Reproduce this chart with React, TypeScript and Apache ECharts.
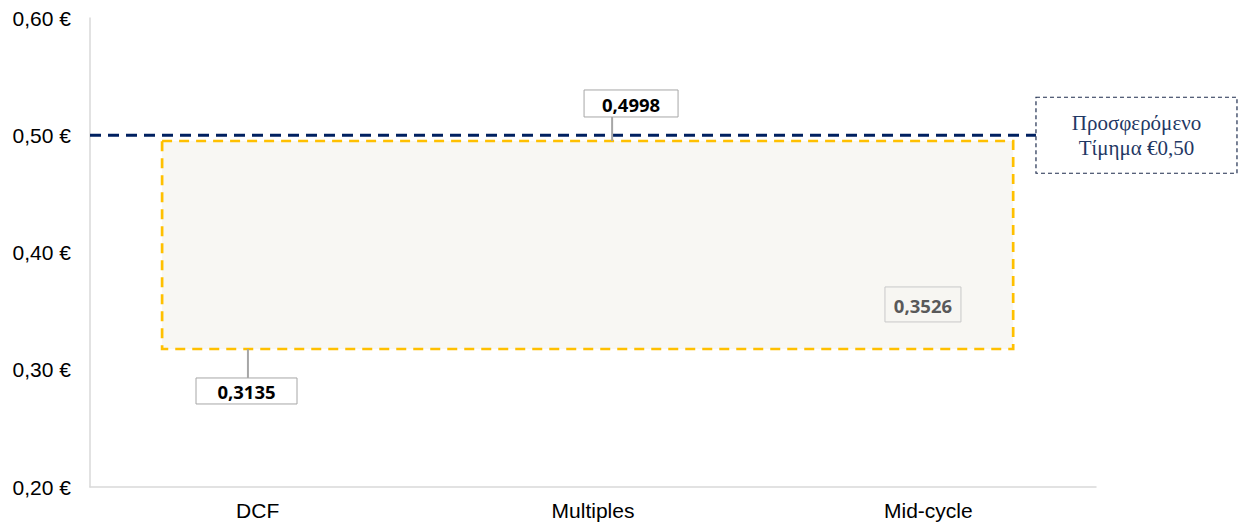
import React, { useEffect, useRef } from "react";
import * as echarts from "echarts";

// ---- data ----
const categories = ["DCF", "Multiples", "Mid-cycle"];
const yMin = 0.2;
const yMax = 0.6;
const yInterval = 0.1;

// valuation range box
const rangeLow = 0.3177;
const rangeHigh = 0.4951;
const rangeXStart = -0.285; // in category units on hidden value axis
const rangeXEnd = 2.253;

// offer price line
const offerPrice = 0.5;
const offerLineEnd = 2.321;
const offerLabelLines = ["Προσφερόμενο", "Τίμημα €0,50"];

// value callouts
const calloutTexts = ["0,4998", "0,3135", "0,3526"];
const calloutX = [1.1135, -0.0333, 1.984];
const calloutY = [0.5271, 0.2819, 0.3557];
const leaderX = [1.057, -0.029, null];
const leaderFrom = [rangeHigh, rangeLow, null];
const leaderTo = [0.5156, 0.293, null];

const fmt = (v: number) => v.toFixed(2).replace(".", ",") + " €";

export default function App() {
  const ref = useRef<HTMLDivElement>(null);
  useEffect(() => {
    if (!ref.current) return;
    const chart = echarts.init(ref.current, undefined, { renderer: "svg" });
    chart.setOption({
      animation: false,
      grid: { left: 90, right: 147, top: 18, bottom: 37, containLabel: false },
      xAxis: [
        {
          type: "category",
          data: categories,
          boundaryGap: true,
          axisLine: { show: true, onZero: false, lineStyle: { color: "#D9D9D9", width: 1.5 } },
          axisTick: { show: false },
          axisLabel: {
            fontSize: 21,
            color: "#000",
            fontFamily: "Liberation Sans, Arial, sans-serif",
            margin: 13,
          },
          splitLine: { show: false },
        },
        { type: "value", min: -0.5, max: 2.5, show: false },
      ],
      yAxis: {
        type: "value",
        min: yMin,
        max: yMax,
        interval: yInterval,
        axisLine: { show: true, onZero: false, lineStyle: { color: "#D9D9D9", width: 1.5 } },
        axisTick: { show: false },
        splitLine: { show: false },
        axisLabel: {
          fontSize: 21,
          color: "#000",
          fontFamily: "Liberation Sans, Arial, sans-serif",
          margin: 19,
          formatter: (v: number) => fmt(v),
        },
      },
      series: [
        {
          type: "line",
          xAxisIndex: 1,
          yAxisIndex: 0,
          symbol: "none",
          data: [
            [-0.5, offerPrice],
            [offerLineEnd, offerPrice],
          ],
          lineStyle: { color: "#002060", width: 2.8, type: [11, 7] },
          z: 5,
          markArea: {
            silent: true,
            itemStyle: {
              color: "#F8F7F3",
              borderColor: "#FFC000",
              borderWidth: 2.7,
              borderType: [10, 7],
            },
            data: [
              [
                { coord: [rangeXStart, rangeHigh] },
                { coord: [rangeXEnd, rangeLow] },
              ],
            ],
          },
        },
      ],
    });

    const px = (x: number, y: number) =>
      chart.convertToPixel({ xAxisIndex: 1, yAxisIndex: 0 }, [x, y]) as number[];

    const graphics: any[] = [];
    const boxSizes = [
      [94, 27],
      [101, 26],
      [76, 35],
    ];
    calloutTexts.forEach((t, i) => {
      if (leaderX[i] !== null) {
        const a = px(leaderX[i] as number, leaderFrom[i] as number);
        const b = px(leaderX[i] as number, leaderTo[i] as number);
        graphics.push({
          type: "line",
          shape: { x1: a[0], y1: a[1], x2: b[0], y2: b[1] },
          style: { stroke: "#A6A6A6", lineWidth: 2 },
          z: 10,
        });
      }
      const c = px(calloutX[i], calloutY[i]);
      const [w, h] = boxSizes[i];
      const inner = i === 2;
      graphics.push({
        type: "rect",
        shape: { x: c[0] - w / 2, y: c[1] - h / 2, width: w, height: h },
        style: {
          fill: inner ? "#F7F6F2" : "#FFFFFF",
          stroke: inner ? "#C8C8C8" : "#A6A6A6",
          lineWidth: 1,
        },
        z: 11,
      });
      graphics.push({
        type: "text",
        x: c[0],
        y: c[1] + 1,
        style: {
          text: t,
          fill: inner ? "#595959" : "#000000",
          font: "bold 18.5px 'Noto Sans', 'Open Sans', sans-serif",
          align: "center",
          verticalAlign: "middle",
        },
        z: 12,
      });
    });

    // offer label
    const o = px(offerLineEnd, offerPrice);
    const ow = 201;
    const oh = 76;
    graphics.push({
      type: "rect",
      shape: { x: o[0], y: o[1] - oh / 2, width: ow, height: oh },
      style: {
        fill: "#FFFFFF",
        stroke: "#1F2D4E",
        lineWidth: 1.2,
        lineDash: [4, 3],
      },
      z: 11,
    });
    offerLabelLines.forEach((line, i) => {
      graphics.push({
        type: "text",
        x: o[0] + ow / 2,
        y: o[1] - 12.5 + i * 25,
        style: {
          text: line,
          fill: "#1F3864",
          font: "21px 'Liberation Serif', 'Times New Roman', serif",
          align: "center",
          verticalAlign: "middle",
        },
        z: 12,
      });
    });

    chart.setOption({ graphic: graphics });
    return () => chart.dispose();
  }, []);

  return (
    <div
      ref={ref}
      style={{ position: "absolute", left: 0, top: 0, width: 1243, height: 524 }}
    />
  );
}
